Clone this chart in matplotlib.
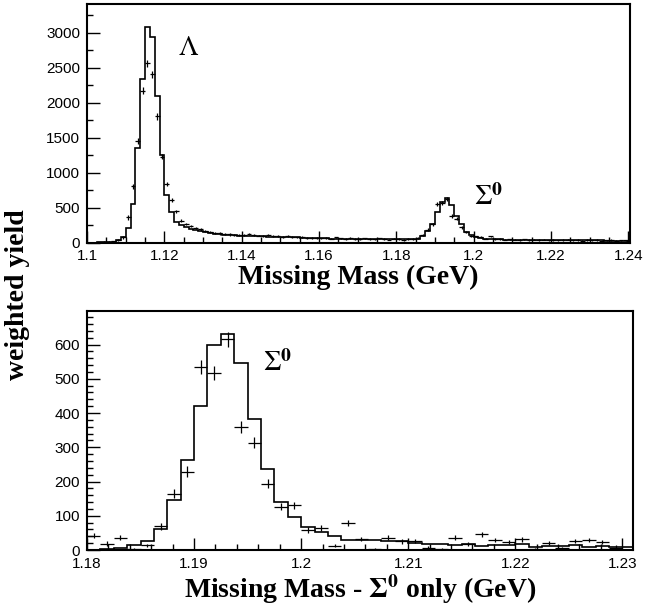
import matplotlib
matplotlib.use('Agg')
import matplotlib.pyplot as plt
from matplotlib.ticker import MultipleLocator
import numpy as np

plt.rcParams['font.family'] = ['Liberation Sans', 'DejaVu Sans']
plt.rcParams['mathtext.fontset'] = 'stix'

# top panel: missing mass, bins of 0.00125 GeV starting at 1.1
top_start = 1.1
top_bin = 0.00125
top_sim = [0, 0, 2, 3, 8, 12, 30, 75,
           205, 555, 1354, 2340, 3076, 2945, 2092, 1258, 678, 435, 300, 250,
           225, 198, 178, 162, 148, 135, 125, 116, 110, 105, 101, 98,
           96, 94, 92, 90, 88, 86, 84, 82, 80, 78, 76, 73, 70, 67, 64, 62,
           60, 58, 57, 56, 55, 54, 53, 52, 51, 50, 49, 48, 47, 46, 46, 45,
           45, 44, 44, 45,
           48, 93, 172, 272, 432, 574, 632, 535, 385, 260, 153, 105,
           78, 62, 54, 49, 46, 44, 42, 41, 40, 39, 38, 37, 36, 36, 35, 35,
           34, 34, 33, 33, 32, 32, 31, 31, 30, 30, 30, 29, 29, 29, 28, 28]
top_data = [0, 0, 5, 10, 14, 20, 35, 72,
            359, 804, 1450, 2167, 2560, 2407, 1804, 1230, 837, 612, 445, 311,
            265, 240, 210, 188, 168, 150, 140, 130, 124, 116, 110, 106,
            112, 118, 108, 100, 96, 104, 98, 88, 82, 90, 78, 72, 80, 68, 62, 70,
            60, 64, 55, 72, 58, 50, 62, 54, 48, 58, 52, 45, 60, 50, 42, 55,
            48, 40, 52, 50,
            60, 110, 186, 263, 555, 560, 625, 380, 340, 215, 150, 98,
            88, 80, 55, 90, 48, 52, 40, 46, 42, 38, 44, 35, 40, 36, 42, 33,
            38, 30, 36, 40, 32, 35, 28, 34, 30, 36, 27, 33, 35, 28, 32, 30]
top_err = ([0, 0, 3, 5, 6, 8, 10, 15,
            30, 38, 45, 50, 55, 52, 45, 38, 32, 28, 24, 20]
           + [16] * 12 + [13] * 16 + [11] * 20
           + [12, 15, 18, 20, 28, 28, 30, 24, 22, 18, 15, 12]
           + [10] * 32)

# bottom panel: Sigma0 only, bins of 0.00125 GeV starting at 1.18
bot_start = 1.18
bot_bin = 0.00125
bot_sim = [1, 2, 5, 14, 25, 60, 145, 263, 420, 600, 630, 546, 383, 236, 139, 96,
           68, 54, 41, 30, 29, 29, 25, 25, 21, 18, 18, 14, 19, 12, 14, 14,
           17, 10, 12, 12, 15, 10, 13, 8, 8]
bot_data = [42, 19, 36, 3, 14, 69, 165, 229, 534, 517, 615, 360, 313, 194, 126, 131,
            58, 64, 13, 78, 32, 2, 36, 25, 26, 7, 3, 36, 18, 46, 29, 24,
            31, 3, 21, 6, 26, 28, 23, 6, 0]
bot_err = [8, 6, 8, 3, 5, 10, 14, 16, 20, 20, 22, 17, 16, 13, 10, 10,
           8, 8, 5, 9, 7, 3, 7, 6, 6, 4, 3, 7, 5, 8, 6, 6,
           7, 3, 6, 4, 6, 6, 6, 10, 0]

label_font = {'family': 'Liberation Serif', 'weight': 'bold', 'size': 20}


def draw_panel(ax, start, width, sim, data, err):
    edges = start + width * np.arange(len(sim) + 1)
    centers = edges[:-1] + width / 2
    ax.stairs(sim, edges, color='black', linewidth=1.2)
    ax.errorbar(centers, data, xerr=width / 2, yerr=err, fmt='none',
                ecolor='black', elinewidth=0.9)
    ax.tick_params(which='both', direction='in', top=False, right=False,
                   labelsize=11, pad=5)
    ax.tick_params(which='major', length=9, width=1)
    ax.tick_params(which='minor', length=4.5, width=1)
    for s in ax.spines.values():
        s.set_linewidth(1.5)


fig = plt.figure(figsize=(6.47, 6.14), dpi=100)

ax1 = fig.add_axes([0.1345, 0.605, 0.839, 0.3884])
draw_panel(ax1, top_start, top_bin, top_sim, top_data, top_err)
ax1.set_xlim(1.1, 1.2404)
ax1.set_ylim(0, 3410)
ax1.xaxis.set_major_locator(MultipleLocator(0.02))
ax1.xaxis.set_minor_locator(MultipleLocator(0.005))
ax1.yaxis.set_major_locator(MultipleLocator(500))
ax1.yaxis.set_minor_locator(MultipleLocator(250))
ax1.set_xticks([1.1, 1.12, 1.14, 1.16, 1.18, 1.2, 1.22, 1.24])
ax1.set_xticklabels(['1.1', '1.12', '1.14', '1.16', '1.18', '1.2', '1.22', '1.24'])
ax1.set_xlabel('Missing Mass (GeV)', fontdict=label_font, labelpad=1)
ax1.text(0.168, 0.816, r'$\Lambda$', transform=ax1.transAxes, fontsize=20,
         ha='left', va='center')
ax1.text(0.712, 0.19, r'$\Sigma^\mathbf{0}$', transform=ax1.transAxes,
         fontsize=20, ha='left', va='center')

ax2 = fig.add_axes([0.1345, 0.1042, 0.8439, 0.3893])
draw_panel(ax2, bot_start, bot_bin, bot_sim, bot_data, bot_err)
ax2.set_xlim(1.18, 1.231)
ax2.set_ylim(0, 698)
ax2.xaxis.set_major_locator(MultipleLocator(0.01))
ax2.xaxis.set_minor_locator(MultipleLocator(0.002))
ax2.yaxis.set_major_locator(MultipleLocator(100))
ax2.yaxis.set_minor_locator(MultipleLocator(20))
ax2.set_yticks([0, 100, 200, 300, 400, 500, 600])
ax2.set_xticks([1.18, 1.19, 1.2, 1.21, 1.22, 1.23])
ax2.set_xticklabels(['1.18', '1.19', '1.2', '1.21', '1.22', '1.23'])
ax2.set_xlabel(r'Missing Mass - $\mathbf{\Sigma^0}$ only (GeV)',
               fontdict=label_font, labelpad=1)
ax2.text(0.322, 0.78, r'$\Sigma^\mathbf{0}$', transform=ax2.transAxes,
         fontsize=20, ha='left', va='center')

fig.text(0.027, 0.52, 'weighted yield', rotation=90, ha='center', va='center',
         fontdict=label_font)

fig.savefig('out.png', dpi=100)
